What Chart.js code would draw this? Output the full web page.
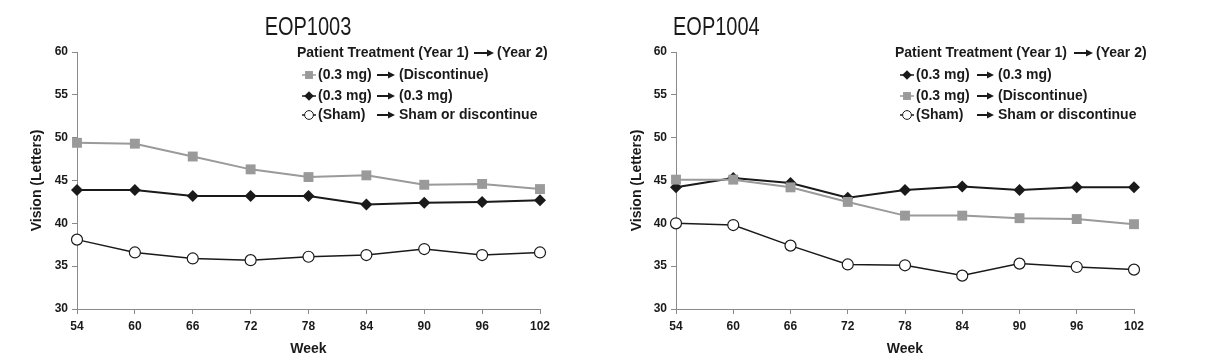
<!DOCTYPE html>
<html>
<head>
<meta charset="utf-8">
<script src="https://cdn.jsdelivr.net/npm/chart.js@4.4.1/dist/chart.umd.min.js"></script>
<style>
body { margin: 0; background: #fff; }
#wrap { position: relative; width: 1224px; height: 363px; }
.box { position: absolute; top: 0; height: 363px; }
</style>
</head>
<body>
<div id="wrap">
  <div class="box" style="left:0;width:600px"><canvas id="c1"></canvas></div>
  <div class="box" style="left:600px;width:624px"><canvas id="c2"></canvas></div>
</div>
<script>
const weeks = ['54', '60', '66', '72', '78', '84', '90', '96', '102'];
const yMin = 30, yMax = 60, yStep = 5;

// EOP1003
const eop1003Discontinue = [49.4, 49.3, 47.8, 46.3, 45.4, 45.6, 44.5, 44.6, 44.0];
const eop1003Continue = [43.9, 43.9, 43.2, 43.2, 43.2, 42.2, 42.4, 42.5, 42.7];
const eop1003Sham = [38.1, 36.6, 35.9, 35.7, 36.1, 36.3, 37.0, 36.3, 36.6];

// EOP1004
const eop1004Continue = [44.2, 45.3, 44.7, 43.0, 43.9, 44.3, 43.9, 44.2, 44.2];
const eop1004Discontinue = [45.1, 45.1, 44.2, 42.5, 40.9, 40.9, 40.6, 40.5, 39.9];
const eop1004Sham = [40.0, 39.8, 37.4, 35.2, 35.1, 33.9, 35.3, 34.9, 34.6];

const legendHeader = ['Patient Treatment (Year 1)', '(Year 2)'];
const labelDiscontinue = ['(0.3 mg)', '(Discontinue)'];
const labelContinue = ['(0.3 mg)', '(0.3 mg)'];
const labelSham = ['(Sham)', 'Sham or discontinue'];

const GRAY = '#9a9a9a';
const BLACK = '#1a1a1a';
const TXT = '#1a1a1a';
const AXIS = '#8a8a8a';

function grayDs(data) {
	return { label: 'discontinue', data: data, borderColor: GRAY, borderWidth: 2,
		pointStyle: 'rect', pointRadius: 7, pointHoverRadius: 7,
		pointBackgroundColor: GRAY, pointBorderColor: GRAY, pointBorderWidth: 0 };
}
function blackDs(data) {
	return { label: 'continue', data: data, borderColor: BLACK, borderWidth: 2,
		pointStyle: 'rectRot', pointRadius: 6, pointHoverRadius: 6,
		pointBackgroundColor: BLACK, pointBorderColor: BLACK, pointBorderWidth: 0 };
}
function shamDs(data) {
	return { label: 'sham', data: data, borderColor: BLACK, borderWidth: 1.5,
		pointStyle: 'circle', pointRadius: 5.5, pointHoverRadius: 5.5,
		pointBackgroundColor: '#fff', pointBorderColor: BLACK, pointBorderWidth: 1.2 };
}

function drawArrow(ctx, x0, x1, y) {
	ctx.save();
	ctx.strokeStyle = TXT;
	ctx.fillStyle = TXT;
	ctx.lineWidth = 2;
	ctx.beginPath();
	ctx.moveTo(x0, y);
	ctx.lineTo(x1 - 5, y);
	ctx.stroke();
	ctx.beginPath();
	ctx.moveTo(x1, y);
	ctx.lineTo(x1 - 7, y - 3.5);
	ctx.lineTo(x1 - 7, y + 3.5);
	ctx.closePath();
	ctx.fill();
	ctx.restore();
}

function drawMarker(ctx, ds, x, y) {
	ctx.save();
	ctx.strokeStyle = ds.borderColor;
	ctx.lineWidth = 1.5;
	ctx.beginPath();
	ctx.moveTo(x - 7, y);
	ctx.lineTo(x + 7, y);
	ctx.stroke();
	const r = ds.pointRadius * 0.8;
	ctx.fillStyle = ds.pointBackgroundColor;
	ctx.strokeStyle = ds.pointBorderColor;
	ctx.lineWidth = 1;
	ctx.beginPath();
	if (ds.pointStyle === 'rect') {
		const s = r * Math.SQRT1_2;
		ctx.rect(x - s, y - s, 2 * s, 2 * s);
		ctx.fill();
	} else if (ds.pointStyle === 'rectRot') {
		ctx.moveTo(x - r, y); ctx.lineTo(x, y + r); ctx.lineTo(x + r, y); ctx.lineTo(x, y - r);
		ctx.closePath();
		ctx.fill();
	} else {
		ctx.arc(x, y, r, 0, Math.PI * 2);
		ctx.fill();
		ctx.stroke();
	}
	ctx.restore();
}

const overlay = {
	id: 'overlay',
	afterDraw(chart, args, o) {
		const ctx = chart.ctx;
		ctx.save();
		ctx.fillStyle = TXT;
		// condensed title: squeeze Liberation Sans horizontally
		ctx.save();
		ctx.font = '25px "Liberation Sans", Arial, sans-serif';
		ctx.textBaseline = 'alphabetic';
		ctx.textAlign = 'left';
		const sx = 0.8;
		const w = ctx.measureText(o.title).width * sx;
		const tx = o.titleAlign === 'center' ? o.titleX - w / 2 : o.titleX;
		ctx.translate(tx, 35);
		ctx.scale(sx, 1);
		ctx.fillText(o.title, 0, 0);
		ctx.restore();

		ctx.font = 'bold 14px "Liberation Sans", Arial, sans-serif';
		ctx.textAlign = 'left';
		ctx.textBaseline = 'middle';
		ctx.fillText(legendHeader[0], o.x, 53);
		drawArrow(ctx, o.headArrow[0], o.headArrow[1], 53);
		ctx.fillText(legendHeader[1], o.headArrow[1] + 3, 53);
		const rowY = [75, 96, 115];
		o.rows.forEach((row, i) => {
			const y = rowY[i];
			const ds = chart.data.datasets[row.ds];
			drawMarker(ctx, ds, o.x + 12, y);
			ctx.fillStyle = TXT;
			ctx.fillText(row.text[0], o.x + 21, y);
			drawArrow(ctx, o.arrow[0], o.arrow[1], y);
			ctx.fillText(row.text[1], o.arrow[1] + 4, y);
		});
		ctx.restore();
	}
};

function makeChart(id, datasets, cfg) {
	return new Chart(document.getElementById(id), {
		type: 'line',
		data: { labels: weeks, datasets: datasets },
		plugins: [overlay],
		options: {
			responsive: true,
			maintainAspectRatio: false,
			animation: false,
			elements: { line: { tension: 0 } },
			layout: { padding: { top: 52, right: cfg.padRight, left: 0, bottom: 0 } },
			plugins: {
				legend: { display: false },
				tooltip: { enabled: false },
				overlay: cfg.overlay
			},
			scales: {
				x: {
					grid: { drawOnChartArea: false, drawTicks: true, tickLength: 5, color: AXIS },
					border: { color: AXIS, width: 1 },
					ticks: { color: TXT, padding: 5, maxRotation: 0,
						font: { family: 'Liberation Sans', weight: 'bold', size: 12 } },
					title: { display: true, text: 'Week', color: TXT, padding: { top: 0, bottom: 5 },
						font: { family: 'Liberation Sans', weight: 'bold', size: 14 } },
					afterFit(scale) { scale.height = 54; }
				},
				y: {
					min: yMin, max: yMax,
					grid: { drawOnChartArea: false, drawTicks: true, tickLength: 5, color: AXIS },
					border: { color: AXIS, width: 1 },
					ticks: { stepSize: yStep, color: TXT, padding: 4,
						font: { family: 'Liberation Sans', weight: 'bold', size: 12 } },
					title: { display: true, text: 'Vision (Letters)', color: TXT, padding: { top: 29, bottom: 0 },
						font: { family: 'Liberation Sans', weight: 'bold', size: 14 } },
					afterFit(scale) { scale.width = cfg.yWidth; }
				}
			}
		}
	});
}

makeChart('c1', [grayDs(eop1003Discontinue), blackDs(eop1003Continue), shamDs(eop1003Sham)], {
	padRight: 60, yWidth: 77,
	overlay: {
		title: 'EOP1003', titleAlign: 'center', titleX: 308,
		x: 297, headArrow: [474, 494], arrow: [377, 395],
		rows: [{ ds: 0, text: labelDiscontinue }, { ds: 1, text: labelContinue }, { ds: 2, text: labelSham }]
	}
});

makeChart('c2', [grayDs(eop1004Discontinue), blackDs(eop1004Continue), shamDs(eop1004Sham)], {
	padRight: 90, yWidth: 76,
	overlay: {
		title: 'EOP1004', titleAlign: 'left', titleX: 73,
		x: 295, headArrow: [474, 493], arrow: [377, 394],
		rows: [{ ds: 1, text: labelContinue }, { ds: 0, text: labelDiscontinue }, { ds: 2, text: labelSham }]
	}
});
</script>
</body>
</html>
